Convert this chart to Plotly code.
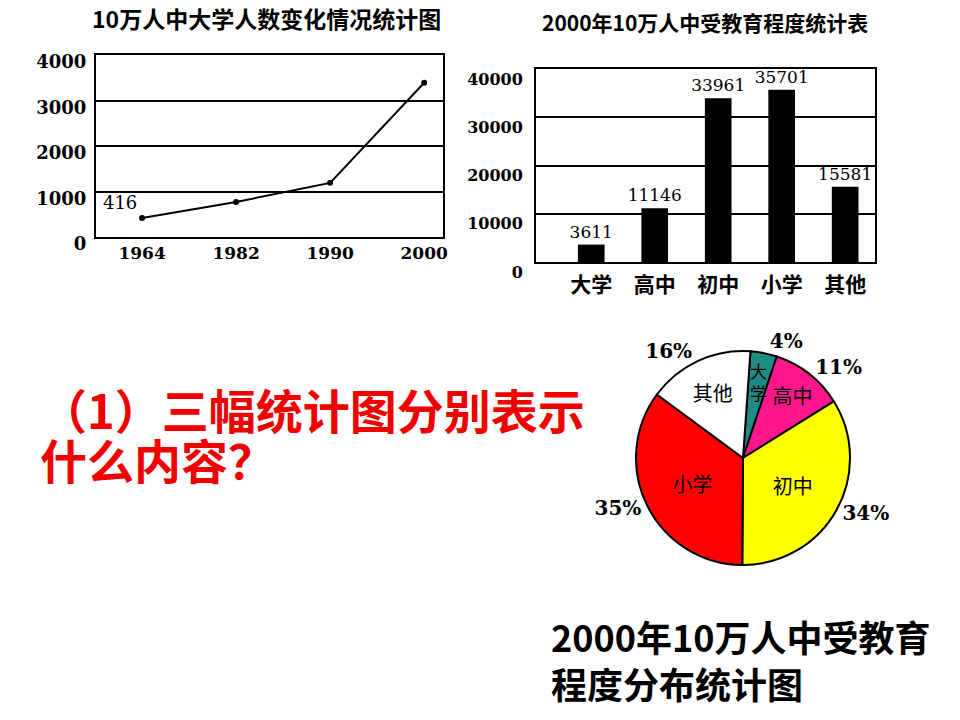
import plotly.graph_objects as go

W, H = 960, 720

# ---- data ----
years = ["1964", "1982", "1990", "2000"]
college_per_100k = [416, 770, 1190, 3390]
line_yticks = [0, 1000, 2000, 3000, 4000]

edu_levels = ["大学", "高中", "初中", "小学", "其他"]
edu_counts = [3611, 11146, 33961, 35701, 15581]
bar_yticks = [0, 10000, 20000, 30000, 40000]

pie_labels = ["大学", "高中", "初中", "小学", "其他"]
pie_inside_text = ["", "高中", "初中", "小学", "其他"]
pie_small_label = "大<br>学"
pie_pct = [4, 11, 34, 35, 16]
pie_colors = ["#1E8C84", "#FF168C", "#FFFF00", "#FF0000", "#FFFFFF"]

title_line = "10万人中大学人数变化情况统计图"
title_bar = "2000年10万人中受教育程度统计表"
question_lines = ["（1）三幅统计图分别表示", "什么内容？"]
caption_lines = ["2000年10万人中受教育", "程度分布统计图"]


def fx(p):
    return p / W


def fy(p):
    return 1 - p / H


CJK = "Noto Sans CJK SC"
SERIF = "DejaVu Serif"

fig = go.Figure()

# ---- line chart ----
fig.add_trace(go.Scatter(
    x=years, y=college_per_100k, xaxis="x", yaxis="y",
    mode="lines+markers+text",
    text=[str(college_per_100k[0])] + [""] * (len(years) - 1),
    textposition="top left",
    textfont=dict(family=SERIF, size=18, color="black"),
    line=dict(color="black", width=2),
    marker=dict(color="black", size=6),
    cliponaxis=False, hoverinfo="skip", showlegend=False,
))

# ---- bar chart ----
fig.add_trace(go.Bar(
    x=edu_levels, y=edu_counts, xaxis="x2", yaxis="y2",
    marker=dict(color="black", line=dict(width=0)),
    width=0.42,
    text=[str(v) for v in edu_counts], textposition="outside",
    constraintext="none", textangle=0,
    textfont=dict(family=SERIF, size=17, color="black"),
    cliponaxis=False, hoverinfo="skip", showlegend=False,
))

# ---- pie chart ----
pie_domain = dict(x=[fx(636), fx(850)], y=[fy(565), fy(351)])
fig.add_trace(go.Pie(
    values=pie_pct, labels=pie_labels, text=pie_inside_text,
    textinfo="text", textposition="inside", insidetextorientation="horizontal",
    textfont=dict(family=CJK, size=20, color="black"),
    marker=dict(colors=pie_colors, line=dict(color="black", width=2)),
    sort=False, direction="clockwise", rotation=4,
    domain=pie_domain, hoverinfo="skip", showlegend=False,
))
fig.add_trace(go.Pie(
    values=pie_pct, labels=[f"{p}%" for p in pie_pct],
    textinfo="label", textposition="outside",
    textfont=dict(family=SERIF, size=20, color="black", weight="bold"),
    marker=dict(colors=["rgba(0,0,0,0)"] * len(pie_pct), line=dict(width=0)),
    sort=False, direction="clockwise", rotation=4,
    domain=pie_domain, hoverinfo="skip", showlegend=False,
))

axis_common = dict(
    showline=True, mirror=True, linecolor="black", linewidth=2,
    ticks="", zeroline=False, fixedrange=True, automargin=False,
)

annotations = [
    dict(text=f"<b>{title_line}</b>", x=fx(266), y=fy(18), xref="paper", yref="paper",
         showarrow=False, font=dict(family=CJK, size=23, color="black"),
         xanchor="center", yanchor="middle"),
    dict(text=f"<b>{title_bar}</b>", x=fx(705), y=fy(22), xref="paper", yref="paper",
         showarrow=False, font=dict(family=CJK, size=21, color="black"),
         xanchor="center", yanchor="middle"),
    dict(text=question_lines[0], x=fx(38), y=fy(408), xref="paper", yref="paper",
         showarrow=False, font=dict(family=CJK, size=47, color="#F00000", weight="bold"),
         xanchor="left", yanchor="middle"),
    dict(text=question_lines[1], x=fx(38), y=fy(458), xref="paper", yref="paper",
         showarrow=False, font=dict(family=CJK, size=47, color="#F00000", weight="bold"),
         xanchor="left", yanchor="middle"),
    dict(text=caption_lines[0], x=fx(549), y=fy(636), xref="paper", yref="paper",
         showarrow=False, font=dict(family=CJK, size=36, color="black", weight="bold"),
         xanchor="left", yanchor="middle"),
    dict(text=caption_lines[1], x=fx(549), y=fy(683), xref="paper", yref="paper",
         showarrow=False, font=dict(family=CJK, size=36, color="black", weight="bold"),
         xanchor="left", yanchor="middle"),
    dict(text=pie_small_label, x=fx(758), y=fy(381), xref="paper", yref="paper",
         showarrow=False, font=dict(family=CJK, size=17, color="black"),
         xanchor="center", yanchor="middle"),
]

fig.update_layout(
    width=W, height=H, margin=dict(l=0, r=0, t=0, b=0, autoexpand=False),
    paper_bgcolor="white", plot_bgcolor="white",
    showlegend=False,
    xaxis=dict(domain=[fx(96), fx(443)], type="category", range=[-0.49, 3.2],
               showgrid=False, tickfont=dict(family=SERIF, size=17, color="black", weight="bold"),
               ticklabelstandoff=0, anchor="y", **axis_common),
    yaxis=dict(domain=[fy(237), fy(55)], range=[0, 4000], tickvals=line_yticks,
               tickformat="d",
               showgrid=True, gridcolor="black", gridwidth=2,
               tickfont=dict(family=SERIF, size=18, color="black", weight="bold"),
               ticklabelstandoff=4, ticklabelshift=7, anchor="x", **axis_common),
    xaxis2=dict(domain=[fx(536), fx(875)], type="category", range=[-0.87, 4.47],
                showgrid=False, tickfont=dict(family=CJK, size=21, color="black", weight="bold"),
                ticklabelstandoff=3, anchor="y2", **axis_common),
    yaxis2=dict(domain=[fy(262), fy(69)], range=[0, 40000], tickvals=bar_yticks,
                tickformat="d",
                showgrid=True, gridcolor="black", gridwidth=2,
                tickfont=dict(family=SERIF, size=16, color="black", weight="bold"),
                ticklabelstandoff=8, ticklabelshift=10, anchor="x2", **axis_common),
    annotations=annotations,
)

fig.write_html("out.html")
